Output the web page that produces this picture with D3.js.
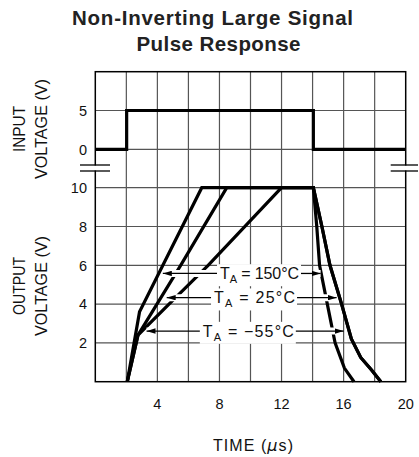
<!DOCTYPE html>
<html><head><meta charset="utf-8">
<script src="https://cdn.jsdelivr.net/npm/d3@7"></script>
<style>
html,body{margin:0;padding:0;background:#fff;}
svg{display:block;}
text{font-stretch:normal;}
.plot{font-family:"Liberation Sans",Arial,sans-serif;}
</style></head>
<body>
<svg id="c" width="419" height="457"></svg>
<script>
// ---- data ----
const titleLines = ["Non-Inverting Large Signal", "Pulse Response"];
const timeTicks = [4, 8, 12, 16, 20];
const inputTicks = [0, 5];
const outputTicks = [2, 4, 6, 8, 10];
const inputGrid = [0, 5, 10];
const outputGrid = [0, 2, 4, 6, 8, 10];
const timeGrid = [0, 2, 4, 6, 8, 10, 12, 14, 16, 18, 20];

const pulseTime = [0, 2.02, 2.02, 14.05, 14.05, 20];
const pulseVolt = [0, 0, 5, 5, 0, 0];

const t150 = [2.06, 2.85, 6.86, 14.05, 14.27, 14.45, 14.95, 15.45, 16.05, 16.67];
const v150 = [0, 3.6, 10, 10, 8, 6, 4, 2, 0.7, 0];
const t25 = [2.06, 2.75, 5.5, 8.47, 14.05, 14.6, 15.12, 15.87, 16.5, 17.1, 17.8, 18.4];
const v25 = [0, 2.4, 6, 10, 10, 8, 6, 4, 2.2, 1.25, 0.6, 0];
const tm55 = [2.06, 2.75, 4.75, 7.27, 12.0, 14.05, 14.6, 15.12, 15.87, 16.5, 17.1, 17.8, 18.4];
const vm55 = [0, 2.4, 4, 6, 10, 10, 8, 6, 4, 2.2, 1.25, 0.6, 0];

const labelTemps = ["150°C", "25°C", "−55°C"];
const labelVolt = [5.58, 4.33, 2.61];
const labelCenterTime = [10.58, 10.26, 9.86];
const leftTipTime = [4.35, 4.6, 3.3];
const rightTipTime = [14.52, 15.55, 16.0];

// ---- layout ----
const svg = d3.select("#c");
const L = 95.3, R = 405.7, T = 71.7, B = 381.7;
const x = d3.scaleLinear().domain([0, 20]).range([L, R]);
const yIn = d3.scaleLinear().domain([0, 5]).range([149.3, 110.5]);
const yOut = d3.scaleLinear().domain([0, 10]).range([B, 187.7]);

svg.append("rect").attr("width", 419).attr("height", 457).attr("fill", "#fff");

// title
const titleGeom = [{cx: 212.5, w: 281, y: 25.3}, {cx: 218.5, w: 164, y: 51}];
svg.append("g").selectAll("text").data(titleLines).join("text")
  .attr("x", (d, i) => titleGeom[i].cx - titleGeom[i].w / 2).attr("y", (d, i) => titleGeom[i].y)
  .attr("textLength", (d, i) => titleGeom[i].w).attr("lengthAdjust", "spacing")
  .attr("font-family", "'Liberation Sans', Arial, sans-serif")
  .attr("font-weight", "bold").attr("font-size", 20.5).attr("fill", "#222")
  .text(d => d);

const g = svg.append("g").attr("class", "plot");

// grid
const grid = g.append("g").attr("stroke", "#555").attr("stroke-width", 1.2);
grid.selectAll(".v").data(timeGrid.slice(1, -1)).join("line")
  .attr("x1", d => x(d)).attr("x2", d => x(d)).attr("y1", T).attr("y2", B);
grid.selectAll(".hi").data(inputGrid.slice(0, 2)).join("line")
  .attr("x1", L).attr("x2", R).attr("y1", d => yIn(d)).attr("y2", d => yIn(d));
grid.selectAll(".ho").data(outputGrid.slice(1)).join("line")
  .attr("x1", L).attr("x2", R).attr("y1", d => yOut(d)).attr("y2", d => yOut(d));

// border
g.append("rect").attr("x", L).attr("y", T).attr("width", R - L).attr("height", B - T)
  .attr("fill", "none").attr("stroke", "#000").attr("stroke-width", 1.5);

// axes tick labels
const ax = g.append("g").attr("font-size", 14.5).attr("fill", "#111");
ax.selectAll(".ti").data(inputTicks).join("text")
  .attr("x", 87).attr("y", d => yIn(d)).attr("dy", "0.36em").attr("text-anchor", "end").text(d => d);
ax.selectAll(".to").data(outputTicks).join("text")
  .attr("x", 87).attr("y", d => yOut(d)).attr("dy", "0.36em").attr("text-anchor", "end").text(d => d);
ax.selectAll(".tx").data(timeTicks).join("text")
  .attr("x", d => x(d)).attr("y", 403.5).attr("dy", "0.36em").attr("text-anchor", "middle").text(d => d);

// axis titles
const at = g.append("g").attr("font-size", 16).attr("fill", "#111");
function vtitle(lines, widths, cx, cy) {
  lines.forEach((s, i) => {
    at.append("text").attr("transform", `translate(${cx + i * 22},${cy}) rotate(-90)`)
      .attr("x", -widths[i] / 2).attr("textLength", widths[i]).attr("lengthAdjust", "spacingAndGlyphs")
      .attr("dy", "0.36em").text(s);
  });
}
vtitle(["INPUT", "VOLTAGE (V)"], [46, 100], 19, 129);
vtitle(["OUTPUT", "VOLTAGE (V)"], [58, 100], 19, 286);
at.append("text").attr("x", 213).attr("y", 445).attr("dy", "0.36em")
  .attr("textLength", 80).attr("lengthAdjust", "spacing")
  .html('TIME (<tspan font-family="DejaVu Sans" font-style="italic">μ</tspan>s)');

// input pulse
const linePts = (ts, vs, ys) => d3.line().x(d => x(d[0])).y(d => ys(d[1]))(ts.map((t, i) => [t, vs[i]]));
g.append("path").attr("d", linePts(pulseTime, pulseVolt, yIn))
  .attr("fill", "none").attr("stroke", "#000").attr("stroke-width", 3.2);

// labels (compute boxes)
const defs = svg.append("defs");
defs.append("marker").attr("id", "ah").attr("viewBox", "0 0 10 6").attr("refX", 10).attr("refY", 3)
  .attr("markerWidth", 9).attr("markerHeight", 5.4).attr("markerUnits", "userSpaceOnUse")
  .attr("orient", "auto").append("path").attr("d", "M0,0L10,3L0,6Z").attr("fill", "#000");

const labelWidths = [79, 81, 91];
const lab = g.append("g");
const boxes = [];
labelTemps.forEach((tmp, i) => {
  const t = lab.append("text").attr("x", x(labelCenterTime[i]) - labelWidths[i] / 2).attr("y", yOut(labelVolt[i]))
    .attr("textLength", labelWidths[i]).attr("lengthAdjust", "spacing")
    .attr("dy", "0.36em").attr("font-size", 16).attr("fill", "#111");
  t.append("tspan").text("T");
  t.append("tspan").attr("font-size", 11).attr("dy", "4").text("A");
  t.append("tspan").attr("dy", "-4").text(" = " + tmp);
  const bb = t.node().getBBox();
  boxes.push({x0: bb.x - 3, x1: bb.x + bb.width + 2, y0: bb.y - 1, y1: bb.y + bb.height + 1});
});

// arrows data
const arrows = [];
labelVolt.forEach((v, i) => {
  const yy = yOut(v);
  arrows.push({x1: boxes[i].x0, x2: x(leftTipTime[i]), y: yy});
  arrows.push({x1: boxes[i].x1, x2: x(rightTipTime[i]), y: yy});
});

// mask for curves: gaps where arrows cross
const mask = defs.append("mask").attr("id", "cm").attr("maskUnits", "userSpaceOnUse")
  .attr("x", 0).attr("y", 0).attr("width", 419).attr("height", 457);
mask.append("rect").attr("width", 419).attr("height", 457).attr("fill", "#fff");
mask.selectAll("line").data(arrows).join("line")
  .attr("x1", d => d.x1).attr("x2", d => d.x2).attr("y1", d => d.y).attr("y2", d => d.y)
  .attr("stroke", "#000").attr("stroke-width", 7);

// curves
const curves = g.insert("g", () => lab.node()).attr("mask", "url(#cm)")
  .attr("fill", "none").attr("stroke", "#000").attr("stroke-width", 3.2).attr("stroke-linejoin", "miter");
[[t150, v150], [t25, v25], [tm55, vm55]].forEach(([ts, vs]) => {
  curves.append("path").attr("d", linePts(ts, vs, yOut));
});

// label boxes behind text
lab.selectAll("rect").data(boxes).join("rect").lower()
  .attr("x", d => d.x0).attr("y", d => d.y0).attr("width", d => d.x1 - d.x0).attr("height", d => d.y1 - d.y0)
  .attr("fill", "#fff");

// arrows
g.append("g").selectAll("line").data(arrows).join("line")
  .attr("x1", d => d.x1).attr("x2", d => d.x2).attr("y1", d => d.y).attr("y2", d => d.y)
  .attr("stroke", "#000").attr("stroke-width", 1.3).attr("marker-end", "url(#ah)");

// axis break symbols
[[80, 110, L], [390.7, 418, R]].forEach(([a, b, ex]) => {
  g.append("rect").attr("x", ex - 2).attr("y", 165.5).attr("width", 4).attr("height", 5).attr("fill", "#fff");
  [165, 171].forEach(yy => g.append("line").attr("x1", a).attr("x2", b).attr("y1", yy).attr("y2", yy)
    .attr("stroke", "#000").attr("stroke-width", 1.3));
});
</script>
</body></html>
